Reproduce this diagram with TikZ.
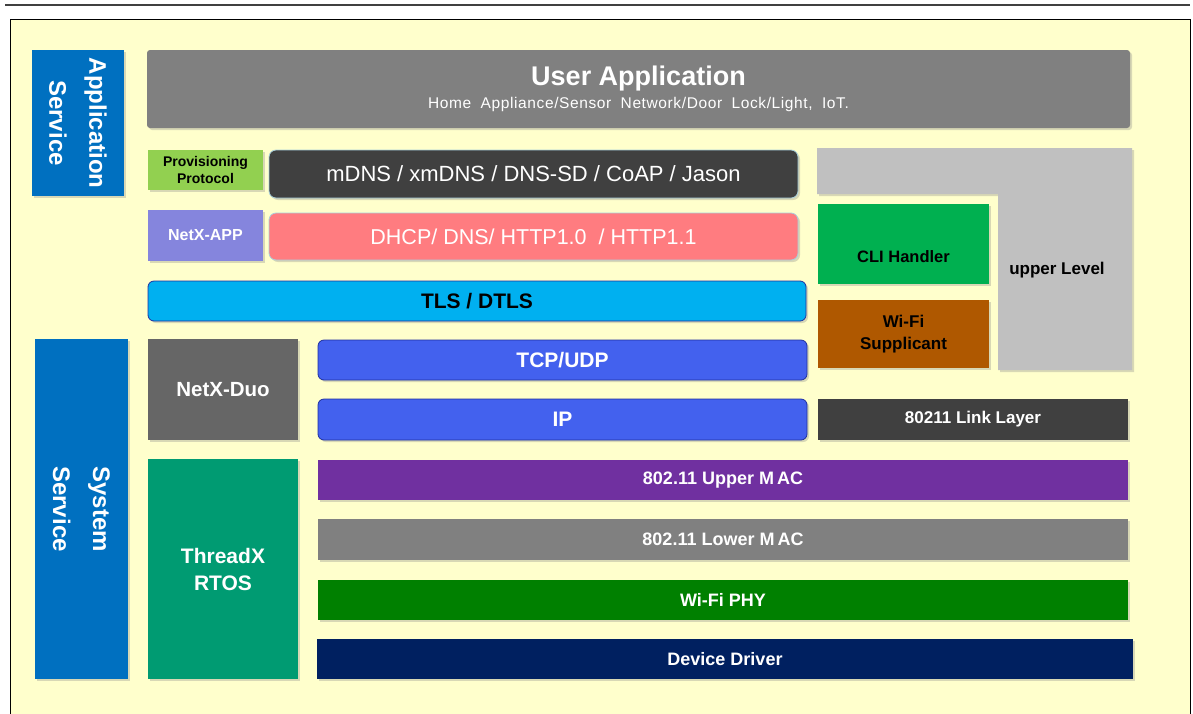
\documentclass[tikz,border=0pt]{standalone}
\usepackage{fontspec}
\setmainfont{Liberation Sans}
\usetikzlibrary{shadows}
\definecolor{bgy}{HTML}{FFFFCC}
\definecolor{blu}{HTML}{0070C0}
\definecolor{gray1}{HTML}{808080}
\definecolor{lgreen}{HTML}{92D050}
\definecolor{dgray}{HTML}{404040}
\definecolor{lgray}{HTML}{C0C0C0}
\definecolor{netxapp}{HTML}{8585DD}
\definecolor{salmon}{HTML}{FF7C80}
\definecolor{cyan1}{HTML}{00B0F0}
\definecolor{green1}{HTML}{00B050}
\definecolor{brown1}{HTML}{AF5800}
\definecolor{gray2}{HTML}{666666}
\definecolor{royal}{HTML}{4361EE}
\definecolor{rborder}{HTML}{2030A0}
\definecolor{teal1}{HTML}{009B72}
\definecolor{purp}{HTML}{7030A0}
\definecolor{green2}{HTML}{008000}
\definecolor{navy1}{HTML}{002060}
\definecolor{lborder}{HTML}{A8D0DC}
\newcommand\fs[2]{\fontsize{#1}{#2}\selectfont}
% name, x1, y1, x2, y2, options, text
\newcommand\placebox[7]{\node[box,#6,minimum width={#4-#2},minimum height={#5-#3}] (#1) at ({(#2+#4)/2},{(#3+#5)/2}) {#7};}
\begin{document}
\begin{tikzpicture}[x=1pt,y=-1pt,
  box/.style={inner sep=0pt, outer sep=0pt, align=center, text=white,
    drop shadow={opacity=0.3, shadow xshift=2pt, shadow yshift=-2pt}},
  pill/.style={rounded corners=7pt},
]
\useasboundingbox (0,0) rectangle (1193,713);
\draw[line width=2pt, color=dgray] (5,4.5) -- (1190,4.5);
\draw[fill=bgy, line width=1pt] (10,19) rectangle (1190,730);

% Application Service (rotated)
\node[box, fill=blu, rotate=-90, minimum width=146, minimum height=92,
  font=\bfseries\fs{24}{40}] (appsvc) at (78,123) {Application\\Service};
% System Service (rotated)
\node[box, fill=blu, rotate=-90, minimum width=340, minimum height=93,
  font=\bfseries\fs{24}{40}] (syssvc) at (81.5,509) {System\\Service};

\placebox{userapp}{147}{50}{1130}{128}{fill=gray1, rounded corners=3pt, font=\fs{15.5}{23}}{{\bfseries\fontsize{27}{23}\selectfont User Application}\\{\addfontfeature{LetterSpace=4}Home\hspace{0.6em}Appliance/Sensor\hspace{0.6em}Network/Door\hspace{0.6em}Lock/Light,\hspace{0.6em}IoT.}}

\placebox{prov}{148}{150}{263}{190}{fill=lgreen, text=black, font=\bfseries\fs{14}{17}}{Provisioning\\Protocol}
\placebox{mdns}{269}{150}{798}{198}{fill=dgray, pill, draw=lborder, line width=0.8pt, font=\fs{22}{25}}{mDNS / xmDNS / DNS-SD / CoAP / Jason}
\placebox{netxapp}{148}{210}{263}{261}{fill=netxapp, font=\bfseries\fs{16}{19}}{NetX-APP}
\placebox{dhcp}{269}{213}{798}{260}{fill=salmon, pill, draw=lborder, line width=0.8pt, font=\fs{21.5}{25}}{DHCP/ DNS/ HTTP1.0~~/ HTTP1.1}
\placebox{tls}{148}{281}{806}{321}{fill=cyan1, rounded corners=6pt, draw=rborder, line width=0.8pt, text=black, font=\bfseries\fs{21}{25}}{TLS /~DTLS}

% upper level L-shape
\path[fill=lgray, drop shadow={opacity=0.3, shadow xshift=2pt, shadow yshift=-2pt}]
  (817,148) -- (1132,148) -- (1132,370) -- (998,370) -- (998,194) -- (817,194) -- cycle;
\node[font=\bfseries\fs{17}{20}, inner sep=0pt] (upperlvl) at (1057,270) {upper Level};

\placebox{cli}{818}{204}{989}{284}{fill=green1, text=black, font=\bfseries\fs{16.5}{20}}{\raisebox{-18pt}[0pt][0pt]{CLI Handler}}
\placebox{supp}{818}{300}{989}{368}{fill=brown1, text=black, font=\bfseries\fs{17}{22}}{Wi-Fi\\Supplicant}

\placebox{netxduo}{148}{339}{298}{440}{fill=gray2, font=\bfseries\fs{20.5}{25}}{NetX-Duo}
\placebox{tcp}{318}{340}{807}{380}{fill=royal, rounded corners=6pt, draw=rborder, line width=0.8pt, font=\bfseries\fs{21}{25}}{TCP/UDP}
\placebox{ip}{318}{399}{807}{440}{fill=royal, rounded corners=6pt, draw=rborder, line width=0.8pt, font=\bfseries\fs{21}{25}}{IP}
\placebox{link}{818}{399}{1128}{440}{fill=dgray, font=\bfseries\fs{17}{20}}{80211 Link Layer}

\placebox{threadx}{148}{459}{298}{679}{fill=teal1, font=\bfseries\fs{21}{27}}{ThreadX\\RTOS}
\placebox{umac}{318}{460}{1128}{500}{fill=purp, font=\bfseries\fs{18}{21}}{802.11 Upper M\,AC}
\placebox{lmac}{318}{519}{1128}{560}{fill=gray1, font=\bfseries\fs{18}{21}}{802.11 Lower M\,AC}
\placebox{phy}{318}{580}{1128}{620}{fill=green2, font=\bfseries\fs{18}{21}}{Wi-Fi PHY}
\placebox{drv}{317}{639}{1133}{679}{fill=navy1, font=\bfseries\fs{18}{21}}{Device Driver}
\end{tikzpicture}
\end{document}
